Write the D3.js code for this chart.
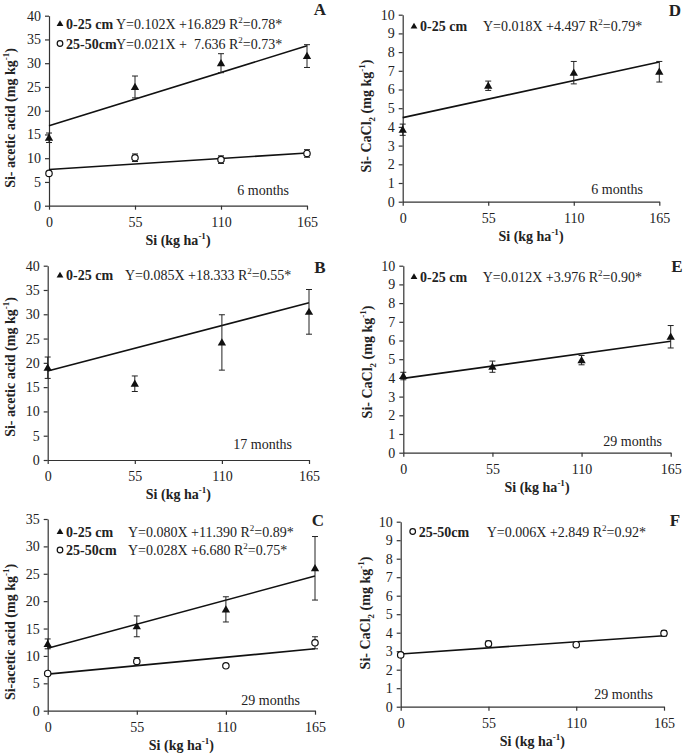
<!DOCTYPE html>
<html lang="en">
<head>
<meta charset="UTF-8">
<title></title>
<script src="https://d3js.org/d3.v7.min.js"></script>
<style>
body { margin: 0; background: #fff; }
svg text { font-family: "Liberation Serif", "Times New Roman", serif; fill: #222; white-space: pre; }
</style>
</head>
<body>
<div id="chart"></div>
<script>
// Si doses (kg ha-1)
var doses = [0, 55, 110, 165];
var doseTicks = ["0", "55", "110", "165"];

// A - acetic acid, 6 months
var aTop = [14.3, 25.0, 30.0, 31.5];
var aTopErr = [1.0, 2.3, 2.0, 2.4];
var aSub = [6.8, 10.1, 9.7, 11.0];
var aSubErr = [0.4, 0.8, 0.8, 0.8];
// B - acetic acid, 17 months
var bTop = [19.0, 15.7, 24.2, 30.5];
var bTopErr = [2.2, 1.6, 5.7, 4.6];
// C - acetic acid, 29 months
var cTop = [12.2, 15.4, 18.5, 26.0];
var cTopErr = [0.9, 1.9, 2.3, 5.8];
var cSub = [6.8, 9.0, 8.2, 12.4];
var cSubErr = [0.3, 0.7, 0.3, 1.1];
// D - CaCl2, 6 months
var dTop = [3.85, 6.2, 6.9, 6.95];
var dTopErr = [0.3, 0.25, 0.6, 0.55];
// E - CaCl2, 29 months
var eTop = [4.1, 4.6, 4.95, 6.2];
var eTopErr = [0.2, 0.3, 0.25, 0.6];
// F - CaCl2, 29 months, 25-50 cm
var fSub = [2.8, 3.4, 3.35, 3.97];
var fSubErr = [0.1, 0.15, 0.1, 0.15];

// regression coefficients [slope, intercept]
var fitA = [[0.102, 16.829], [0.021, 7.636]];
var fitB = [[0.085, 18.333]];
var fitC = [[0.080, 11.390], [0.028, 6.680]];
var fitD = [[0.018, 4.497]];
var fitE = [[0.012, 3.976]];
var fitF = [[0.006, 2.849]];

var eqA = [["Y=0.102X +16.829 R", "=0.78*"], ["Y=0.021X +  7.636 R", "=0.73*"]];
var eqB = [["Y=0.085X +18.333 R", "=0.55*"]];
var eqC = [["Y=0.080X +11.390 R", "=0.89*"], ["Y=0.028X +6.680 R", "=0.75*"]];
var eqD = [["Y=0.018X +4.497 R", "=0.79*"]];
var eqE = [["Y=0.012X +3.976 R", "=0.90*"]];
var eqF = [["Y=0.006X +2.849 R", "=0.92*"]];

var acetTicks = [0, 5, 10, 15, 20, 25, 30, 35, 40];
var acetTicksC = [0, 5, 10, 15, 20, 25, 30, 35];
var cacTicks = [0, 1, 2, 3, 4, 5, 6, 7, 8, 9, 10];

var panels = [
  { id: "A", x0: 49, x1: 307, y0: 205.7, y1: 15.7, ymax: 40, ticks: acetTicks, ytitle: "acet", ytx: 10, yty: 118,
    series: [{ v: aTop, e: aTopErr, m: "tri", lab: "0-25 cm" }, { v: aSub, e: aSubErr, m: "circ", lab: "25-50cm" }],
    fits: fitA, eqs: eqA, legX: 60, legY: 23.5, legDy: 20, eqX: 116, letter: [320, 15], note: "6 months", noteX: 289, noteY: 195 },
  { id: "B", x0: 47.7, x1: 309, y0: 460, y1: 265.7, ymax: 40, ticks: acetTicks, ytitle: "acet", ytx: 9.5, yty: 367,
    series: [{ v: bTop, e: bTopErr, m: "tri", lab: "0-25 cm" }],
    fits: fitB, eqs: eqB, legX: 60, legY: 275, legDy: 20, eqX: 125, letter: [320, 273], note: "17 months", noteX: 292, noteY: 449 },
  { id: "C", x0: 47.7, x1: 315, y0: 710.7, y1: 519, ymax: 35, ticks: acetTicksC, ytitle: "acetC", ytx: 9.5, yty: 632,
    series: [{ v: cTop, e: cTopErr, m: "tri", lab: "0-25 cm" }, { v: cSub, e: cSubErr, m: "circ", lab: "25-50cm" }],
    fits: fitC, eqs: eqC, legX: 60, legY: 531.5, legDy: 18.5, eqX: 128, letter: [318, 526], note: "29 months", noteX: 300, noteY: 705 },
  { id: "D", x0: 402.7, x1: 659.3, y0: 201.7, y1: 14.7, ymax: 10, ticks: cacTicks, ytitle: "cacl", ytx: 366, yty: 116,
    series: [{ v: dTop, e: dTopErr, m: "tri", lab: "0-25 cm" }],
    fits: fitD, eqs: eqD, legX: 414, legY: 26, legDy: 20, eqX: 483, letter: [675, 16], note: "6 months", noteX: 643, noteY: 194 },
  { id: "E", x0: 403.3, x1: 670.7, y0: 452.7, y1: 265.7, ymax: 10, ticks: cacTicks, ytitle: "cacl", ytx: 366.5, yty: 362,
    series: [{ v: eTop, e: eTopErr, m: "tri", lab: "0-25 cm" }],
    fits: fitE, eqs: eqE, legX: 414, legY: 276.5, legDy: 20, eqX: 482.7, letter: [677, 272], note: "29 months", noteX: 662, noteY: 446 },
  { id: "F", x0: 400.7, x1: 664, y0: 706.7, y1: 521.7, ymax: 10, ticks: cacTicks, ytitle: "cacl", ytx: 365, yty: 613,
    series: [{ v: fSub, e: fSubErr, m: "circ", lab: "25-50cm" }],
    fits: fitF, eqs: eqF, legX: 412.7, legY: 531.5, legDy: 20, eqX: 486.7, letter: [675, 526], note: "29 months", noteX: 653, noteY: 699 }
];

var svg = d3.select("#chart").append("svg")
  .attr("width", 685)
  .attr("height", 756);

function marker(g, type, x, y, small) {
  if (type == "tri") {
    var tri = d3.symbol().type(d3.symbolTriangle).size(small ? 20 : 30);
    g.append("path").attr("d", tri).attr("transform", "translate(" + x + "," + (y + 0.6) + ")")
      .attr("fill", "#111");
  } else {
    g.append("circle").attr("cx", x).attr("cy", y).attr("r", small ? 2.8 : 3.2)
      .attr("fill", "#fff").attr("stroke", "#111").attr("stroke-width", 1.2);
  }
}

panels.forEach(function(p) {
  var g = svg.append("g");
  var x = d3.scaleLinear().domain([0, 165]).range([p.x0, p.x1]);
  var y = d3.scaleLinear().domain([0, p.ymax]).range([p.y0, p.y1]);

  // axes
  g.append("g").attr("transform", "translate(0," + p.y0 + ")")
    .call(d3.axisBottom(x).tickValues(doses).tickFormat((d, i) => doseTicks[i]).tickSize(4).tickSizeOuter(0).tickPadding(7))
    .call(a => a.selectAll("text").attr("font-size", 14).attr("fill", "#222"));
  g.append("g").attr("transform", "translate(" + p.x0 + ",0)")
    .call(d3.axisLeft(y).tickValues(p.ticks).tickSize(4).tickSizeOuter(0).tickPadding(4))
    .call(a => a.selectAll("text").attr("font-size", 14).attr("fill", "#222"));
  g.selectAll(".domain, .tick line").attr("stroke", "#333").attr("stroke-width", 1.2);

  // x title
  var xt = g.append("text").attr("x", (p.x0 + p.x1) / 2).attr("y", p.y0 + 39)
    .attr("text-anchor", "middle").attr("font-size", 14).attr("font-weight", "bold");
  xt.append("tspan").text("Si (kg ha");
  xt.append("tspan").text("-1").attr("font-size", 9).attr("dy", -6);
  xt.append("tspan").text(")").attr("dy", 6);

  // y title
  var yt = g.append("text").attr("transform", "translate(" + (p.ytx + 5) + "," + p.yty + ") rotate(-90)")
    .attr("text-anchor", "middle").attr("font-size", 14).attr("font-weight", "bold");
  if (p.ytitle == "cacl") {
    yt.append("tspan").text("Si- CaCl");
    yt.append("tspan").text("2").attr("font-size", 9).attr("dy", 4);
    yt.append("tspan").text(" (mg kg").attr("dy", -4);
  } else {
    yt.append("tspan").text(p.ytitle == "acetC" ? "Si-acetic acid (mg kg" : "Si- acetic acid (mg kg");
  }
  yt.append("tspan").text("-1").attr("font-size", 9).attr("dy", -6);
  yt.append("tspan").text(")").attr("dy", 6);

  // regression lines
  p.fits.forEach(function(f) {
    g.append("line")
      .attr("x1", x(0)).attr("y1", y(f[1]))
      .attr("x2", x(165)).attr("y2", y(f[0] * 165 + f[1]))
      .attr("stroke", "#111").attr("stroke-width", 1.6);
  });

  // error bars and points
  p.series.forEach(function(s) {
    doses.forEach(function(d, i) {
      var cx = x(d), lo = y(s.v[i] - s.e[i]), hi = y(s.v[i] + s.e[i]);
      g.append("line").attr("x1", cx).attr("x2", cx).attr("y1", lo).attr("y2", hi)
        .attr("stroke", "#222").attr("stroke-width", 1);
      [lo, hi].forEach(function(yy) {
        g.append("line").attr("x1", cx - 3).attr("x2", cx + 3).attr("y1", yy).attr("y2", yy)
          .attr("stroke", "#222").attr("stroke-width", 1);
      });
      marker(g, s.m, cx, y(s.v[i]));
    });
  });

  // legend + equations
  p.series.forEach(function(s, i) {
    var ly = p.legY + i * p.legDy;
    marker(g, s.m, p.legX, ly, true);
    g.append("text").attr("x", p.legX + 6).attr("y", ly + 5)
      .attr("font-size", 14).attr("font-weight", "bold").text(s.lab);
    var eq = g.append("text").attr("x", p.eqX).attr("y", ly + 5).attr("font-size", 14);
    eq.append("tspan").text(p.eqs[i][0]);
    eq.append("tspan").text("2").attr("font-size", 9).attr("dy", -6);
    eq.append("tspan").text(p.eqs[i][1]).attr("dy", 6);
  });

  // panel letter and time label
  g.append("text").attr("x", p.letter[0]).attr("y", p.letter[1])
    .attr("text-anchor", "middle").attr("font-size", 17).attr("font-weight", "bold").text(p.id);
  g.append("text").attr("x", p.noteX).attr("y", p.noteY)
    .attr("text-anchor", "end").attr("font-size", 14).text(p.note);
});
</script>
</body>
</html>
